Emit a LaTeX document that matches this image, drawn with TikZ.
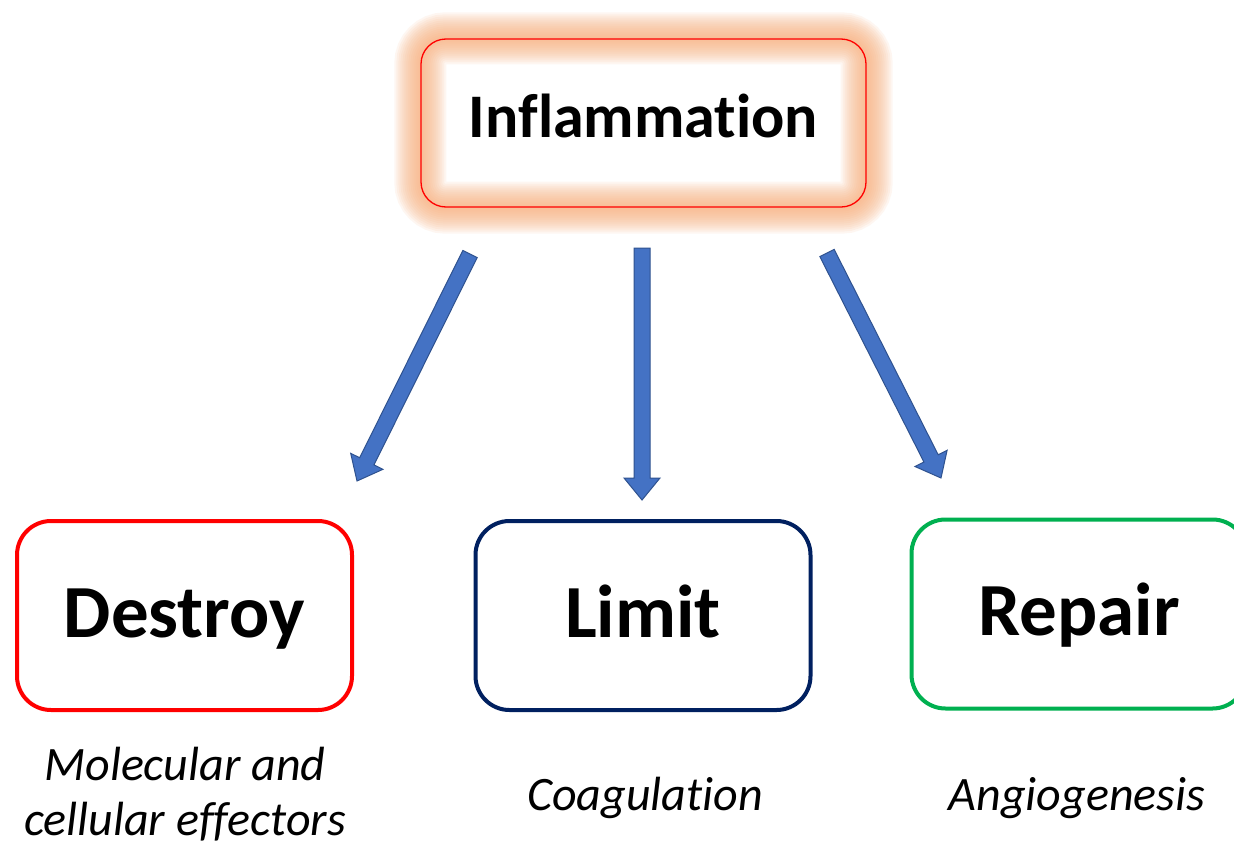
\documentclass[tikz,border=0pt]{standalone}
\usepackage{fontspec}
\setmainfont[Ligatures={NoCommon}]{Carlito}
\usetikzlibrary{calc}
\pgfdeclarelayer{background}
\pgfsetlayers{background,main}
\definecolor{glowc}{RGB}{249,175,123}
\definecolor{arrfill}{RGB}{68,114,196}
\definecolor{arrline}{RGB}{47,82,143}
\definecolor{dred}{RGB}{255,0,0}
\definecolor{dnavy}{RGB}{0,32,96}
\definecolor{dgreen}{RGB}{0,176,80}
\newcommand{\blockarr}[2]{%
  \coordinate (tmpB) at ($(#2)!22pt!(#1)$);
  \path[blockarrow] ($(#1)!8pt!90:(#2)$) -- ($(tmpB)!8pt!-90:(#1)$) -- ($(tmpB)!18pt!-90:(#1)$)
     -- (#2) -- ($(tmpB)!18pt!90:(#1)$) -- ($(tmpB)!8pt!90:(#1)$) -- ($(#1)!8pt!-90:(#2)$) -- cycle;}
\tikzset{
  box/.style={draw, line width=4pt, rounded corners=34pt, minimum width=335pt, minimum height=189pt,
    font=\fontsize{75}{80}\selectfont\bfseries, inner sep=0pt, text height=58pt, text depth=15pt},
  topbox/.style={draw=dred, line width=1.3pt, rounded corners=25pt, minimum width=445pt, minimum height=168pt,
    font=\fontsize{62}{70}\selectfont\bfseries, inner sep=0pt, text height=46pt, text depth=18pt},
  note/.style={font=\fontsize{48}{55}\selectfont\itshape, align=center, anchor=base},
  blockarrow/.style={fill=arrfill, draw=arrline, line width=1pt, line join=miter}
}
\begin{document}
\begin{tikzpicture}[x=1pt,y=-1pt]
\useasboundingbox (0,0) rectangle (1234,846);

\node[topbox] (infl) at (643.5,123) {Inflammation};
\begin{pgfonlayer}{background}
\fill[white] (0,0) rectangle (1234,846);
\foreach \w in {4,8,...,52}
  \draw[glowc, line width=\w pt, opacity=0.1, rounded corners=25pt] (infl.north west) rectangle (infl.south east);
\end{pgfonlayer}

\node[box, draw=dred] (destroy) at (184.5,615.5) {Destroy};
\node[box, draw=dnavy] (limit) at (643,615.5) {Limit};
\node[box, draw=dgreen] (repair) at (1079,614) {Repair};

\node[note] (tdes) at (185,835) {Molecular and\\cellular effectors};
\node[note] (tlim) at (645,810) {Coagulation};
\node[note] (trep) at (1077,810) {Angiogenesis};

\coordinate (a1s) at (470,254); \coordinate (a1e) at (357,481);
\coordinate (a2s) at (642,248); \coordinate (a2e) at (642,500);
\coordinate (a3s) at (827,253); \coordinate (a3e) at (941,478);
\blockarr{a1s}{a1e}
\blockarr{a2s}{a2e}
\blockarr{a3s}{a3e}
\end{tikzpicture}
\end{document}
